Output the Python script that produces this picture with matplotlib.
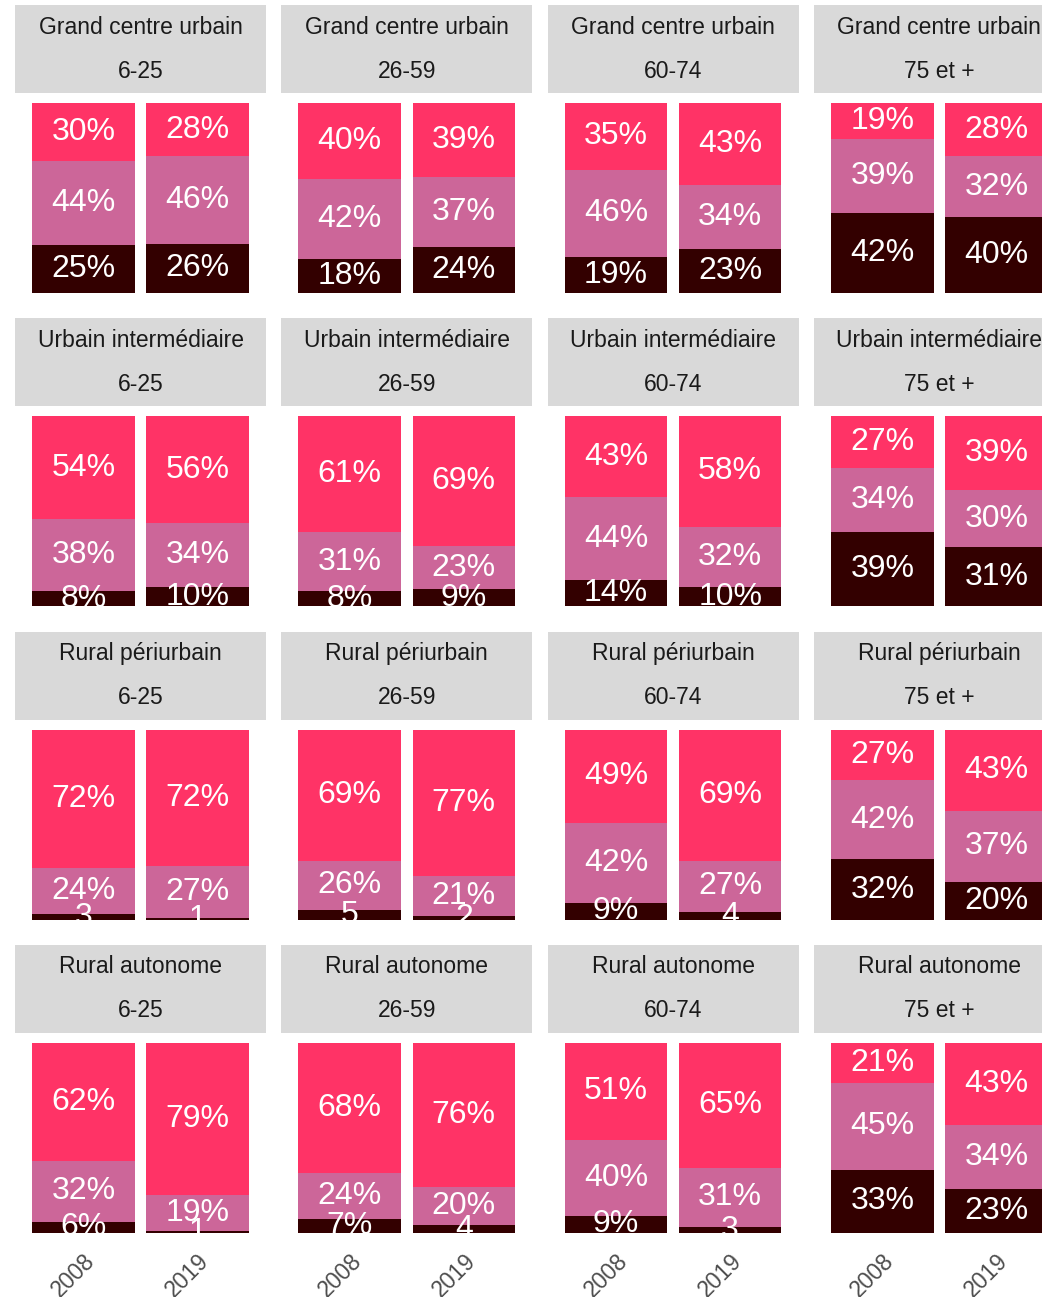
import numpy as np
import matplotlib
matplotlib.use("Agg")
import matplotlib.pyplot as plt

plt.rcParams['font.family'] = ['Liberation Sans', 'DejaVu Sans']

# facets
regions = ["Grand centre urbain", "Urbain intermédiaire", "Rural périurbain", "Rural autonome"]
ages = ["6-25", "26-59", "60-74", "75 et +"]
years = ["2008", "2019"]

# shares in % : [region][age][year]
top_share = [
    [[30, 28], [40, 39], [35, 43], [19, 28]],
    [[54, 56], [61, 69], [43, 58], [27, 39]],
    [[72, 72], [69, 77], [49, 69], [27, 43]],
    [[62, 79], [68, 76], [51, 65], [21, 43]],
]
mid_share = [
    [[44, 46], [42, 37], [46, 34], [39, 32]],
    [[38, 34], [31, 23], [44, 32], [34, 30]],
    [[24, 27], [26, 21], [42, 27], [42, 37]],
    [[32, 19], [24, 20], [40, 31], [45, 34]],
]
low_share = [
    [[25, 26], [18, 24], [19, 23], [42, 40]],
    [[8, 10], [8, 9], [14, 10], [39, 31]],
    [[3, 1], [5, 2], [9, 4], [32, 20]],
    [[6, 1], [7, 4], [9, 3], [33, 23]],
]

col_low = "#330000"
col_mid = "#CC6699"
col_top = "#FF3366"

W, H = 1042, 1297
fig = plt.figure(figsize=(W / 100, H / 100), dpi=100)


def px_axes(x, y, w, h):
    # pixel box (top-left origin) -> figure axes
    return fig.add_axes([x / W, 1 - (y + h) / H, w / W, h / H])


def lab(v):
    return f"{v}%" if v > 5 else f"{v}"


x = np.arange(1, 3)
for r, reg in enumerate(regions):
    y0 = 5 + r * 313.3
    for c, age in enumerate(ages):
        x0 = 15 + c * 266.3
        # strip
        sax = px_axes(x0, y0, 251, 88)
        sax.set_facecolor("#D9D9D9")
        sax.set_xticks([])
        sax.set_yticks([])
        for s in sax.spines.values():
            s.set_visible(False)
        sax.text(0.5, 0.75, reg, ha="center", va="center", fontsize=16.5, color="#1A1A1A")
        sax.text(0.5, 0.25, age, ha="center", va="center", fontsize=16.5, color="#1A1A1A")

        # panel
        ax = px_axes(x0, y0 + 98, 251, 190)
        lo = np.array(low_share[r][c], float)
        mi = np.array(mid_share[r][c], float)
        tp = np.array(top_share[r][c], float)
        tot = lo + mi + tp
        lo_f, mi_f, tp_f = lo / tot, mi / tot, tp / tot
        ax.bar(x, lo_f, width=0.9, color=col_low, linewidth=0)
        ax.bar(x, mi_f, bottom=lo_f, width=0.9, color=col_mid, linewidth=0)
        ax.bar(x, tp_f, bottom=lo_f + mi_f, width=0.9, color=col_top, linewidth=0)
        for i in range(2):
            ax.text(x[i], lo_f[i] / 2, lab(int(lo[i])), ha="center", va="center",
                    fontsize=23, color="white", clip_on=True)
            ax.text(x[i], lo_f[i] + mi_f[i] / 2, lab(int(mi[i])), ha="center", va="center",
                    fontsize=23, color="white", clip_on=True)
            ax.text(x[i], lo_f[i] + mi_f[i] + tp_f[i] / 2, lab(int(tp[i])), ha="center",
                    va="center", fontsize=23, color="white", clip_on=True)
        ax.set_xlim(0.4, 2.6)
        ax.set_ylim(0, 1)
        ax.set_yticks([])
        for s in ax.spines.values():
            s.set_visible(False)
        ax.set_xticks(x)
        if r == len(regions) - 1:
            ax.set_xticklabels(years, rotation=45, ha="right", va="top",
                               rotation_mode="anchor", fontsize=16.5, color="#4D4D4D")
            ax.tick_params(axis="x", length=0, pad=12)
        else:
            ax.set_xticklabels([])
            ax.tick_params(axis="x", length=0)

fig.savefig("out.png", dpi=100)
